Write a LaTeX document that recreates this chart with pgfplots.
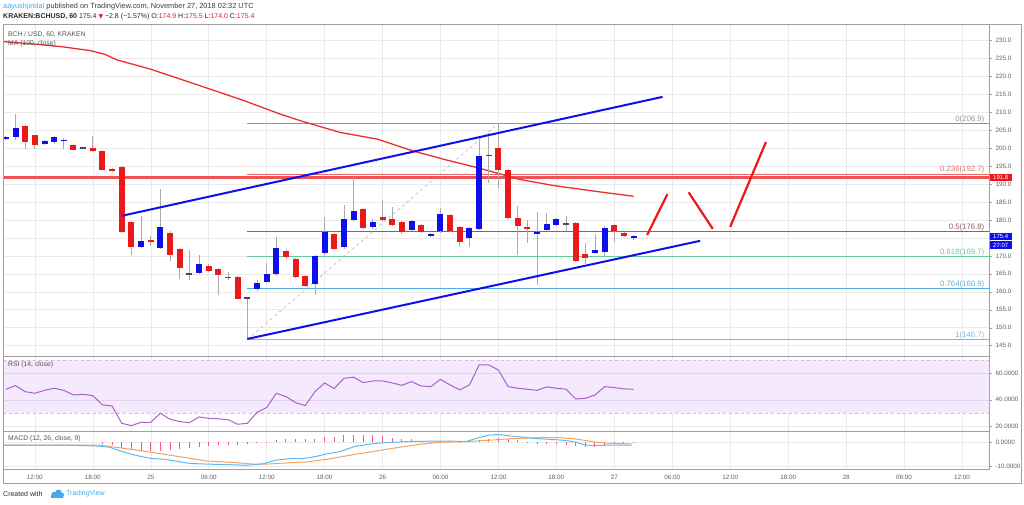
\documentclass[border=0pt]{standalone}
\usepackage{pgfplots}
\pgfplotsset{compat=1.18}
\usepackage{pgfplotstable}
\usepackage{fontspec}
\setmainfont{Liberation Sans}
\newfontfamily\sym{DejaVu Sans}

\definecolor{cred}{RGB}{235,25,25}
\definecolor{cblue}{RGB}{15,15,235}
\definecolor{dojic}{RGB}{70,70,90}
\definecolor{wick}{RGB}{170,170,170}
\definecolor{gridc}{RGB}{234,234,234}
\definecolor{framec}{RGB}{160,160,160}
\definecolor{labc}{RGB}{95,95,95}
\definecolor{maline}{RGB}{238,45,45}
\definecolor{fibzero}{RGB}{150,150,150}
\definecolor{fibA}{RGB}{236,105,105}
\definecolor{fibB}{RGB}{140,95,105}
\definecolor{fibC}{RGB}{100,205,150}
\definecolor{fibD}{RGB}{80,175,225}
\definecolor{fibE}{RGB}{110,190,230}
\definecolor{rsic}{RGB}{175,95,205}
\definecolor{rsiband}{RGB}{244,233,253}
\definecolor{rsidash}{RGB}{205,185,225}
\definecolor{macdc}{RGB}{95,185,240}
\definecolor{sigc}{RGB}{248,160,90}
\definecolor{histc}{RGB}{242,90,130}
\definecolor{tvblue}{RGB}{70,170,230}

% hourly candles, t = hours after Nov 25 00:00
\pgfplotstableread{
t o h l c
-15 202.5 203.4 202.2 203.1
-14 203.0 209.6 202.3 205.5
-11 201.3 202.4 201.0 202.1
-10 201.6 203.3 201.3 203.0
-9 202.0 202.8 199.8 202.4
-1 172.5 181.2 172.3 174.1
1 172.3 188.7 172.0 178.1
5 165.1 170.2 164.9 167.6
11 160.7 163.4 160.2 162.4
12 162.7 167.9 162.4 164.9
13 165.0 175.2 164.4 172.3
17 162.2 170.3 159.1 170.0
18 170.8 180.9 170.3 176.7
20 172.5 184.2 172.0 180.4
21 180.0 192.1 179.6 182.4
23 178.0 180.2 177.6 179.5
27 177.1 179.9 176.8 179.6
29 175.5 176.5 175.2 176.2
30 176.8 183.2 176.5 181.6
33 175.0 178.0 172.4 177.7
34 177.5 203.2 177.2 197.9
40 176.3 182.1 161.9 176.7
41 177.2 182.0 176.9 179.0
42 178.5 180.5 178.2 180.2
46 170.8 176.0 170.5 171.5
47 171.2 178.2 169.6 177.9
50 175.0 175.7 174.5 175.4
}\bull
\pgfplotstableread{
t o h l c
-13 206.1 206.5 199.8 201.7
-12 203.6 203.8 199.8 200.9
-8 200.9 201.2 199.4 199.6
-6 200.0 203.3 198.9 199.1
-5 199.1 199.4 193.8 194.0
-4 194.1 194.4 193.5 193.7
-3 194.8 195.0 176.4 176.6
-2 179.4 179.6 170.3 172.5
0 174.5 175.5 172.8 174.0
2 176.5 177.0 168.6 170.2
3 171.9 172.2 163.5 166.7
6 167.3 167.8 165.5 165.9
7 166.3 166.5 159.1 164.8
9 164.2 164.5 157.9 158.1
14 171.3 171.8 169.0 169.6
15 169.2 169.5 163.9 164.2
16 164.5 164.8 161.2 161.5
19 176.1 176.4 171.5 172.0
22 183.0 183.3 177.5 177.9
24 180.7 185.7 179.6 180.0
25 180.2 183.7 178.2 178.5
26 179.5 179.8 176.2 176.7
28 178.7 179.0 176.3 176.6
31 181.3 181.6 176.6 177.0
32 178.0 178.3 172.4 173.8
36 200.0 206.9 188.8 193.9
37 193.9 194.3 180.2 180.5
38 180.5 184.0 170.3 178.2
39 178.0 180.1 173.6 177.5
44 179.1 179.4 168.3 168.6
45 170.4 173.6 167.8 169.4
48 178.5 178.8 174.0 176.8
49 176.3 176.6 175.3 175.6
}\bear
\pgfplotstableread{
t o h l c
-7 200.0 200.3 199.8 200.0
4 165.0 171.6 163.3 165.0
8 164.0 165.6 163.4 164.0
10 158.3 158.6 146.7 158.3
35 198.0 204.1 190.2 198.0
43 179.0 181.1 176.9 179.0
}\doji
\pgfplotstableread{
t v
-15 47.9
-14 50.7
-13 46.1
-12 44.9
-11 47.1
-10 48.7
-9 47.1
-8 43.6
-7 44.1
-6 43.1
-5 36.1
-4 35.3
-3 22.2
-2 20.5
-1 23.0
0 23.0
1 29.8
2 25.3
3 23.5
4 22.7
5 27.0
6 26.0
7 25.6
8 25.0
9 21.5
10 22.2
11 30.5
12 34.1
13 44.9
14 42.4
15 37.8
16 35.6
17 46.1
18 52.7
19 48.4
20 56.2
21 57.0
22 52.9
23 54.2
24 54.2
25 52.7
26 50.9
27 53.7
28 50.4
29 49.9
30 55.4
31 51.2
32 47.4
33 51.2
34 66.3
35 66.3
36 62.5
37 49.9
38 48.7
39 47.9
40 47.1
41 49.7
42 48.7
43 48.0
44 40.6
45 41.1
46 43.6
47 49.9
48 49.2
49 48.2
50 47.9
}\rsi
\pgfplotstableread{
t v
-5 -0.9
-4 -1.3
-3 -2.2
-2 -3.0
-1 -3.5
0 -3.6
1 -3.5
2 -3.2
3 -2.9
4 -2.5
5 -2.1
6 -1.6
7 -1.3
8 -1.1
9 -1.0
10 -0.9
11 -0.5
12 0.1
13 0.9
14 1.2
15 1.5
16 1.5
17 1.6
18 2.3
19 2.4
20 2.9
21 3.1
22 3.1
23 2.9
24 2.5
25 2.0
26 1.6
27 1.2
28 0.6
29 0.2
30 0.1
31 0.1
32 0.1
33 0.4
34 1.0
35 1.4
36 1.9
37 1.5
38 0.9
39 0.3
40 -0.7
41 -0.8
42 -0.9
43 -1.0
44 -1.5
45 -2.0
46 -2.0
47 -1.2
48 -0.8
49 -0.5
50 -0.3
}\hist

\pgfplotsset{
  panel/.style={
    scale only axis, width=986pt, xmin=-15.3, xmax=86.8,
    axis line style={framec, line width=0.6pt},
    xtick={-12,-6,...,84}, xticklabels={},
    xmajorgrids, ymajorgrids, grid style={gridc, line width=0.5pt},
    tick align=outside, major tick length=3pt,
    ytick pos=right, yticklabel pos=right,
    xtick style={draw=none}, ytick style={framec},
    tick label style={font=\fontsize{6.3}{7}\selectfont, text=labc},
  },
  candle/.style={draw=none, no markers, forget plot,
    error bars/.cd, y dir=both, y explicit, error mark=none,
    error bar style={#1}},
}

\begin{document}
\begin{tikzpicture}
\path[use as bounding box] (0,0) rectangle (1024pt,-504pt);

% header
\node[anchor=west, inner sep=0pt, font=\fontsize{7.4}{8}\selectfont, text={rgb,255:red,60;green,60;blue,60}] at (3pt,-6.5pt)
  {\textcolor{tvblue}{aayushjindal} published on TradingView.com, November 27, 2018 02:32 UTC};
\node[anchor=west, inner sep=0pt, font=\fontsize{7}{8}\selectfont, text={rgb,255:red,40;green,40;blue,40}] at (3pt,-16.5pt)
  {\textbf{KRAKEN:BCHUSD, 60} 175.4 {\sym\textcolor{cred}{\fontsize{6}{7}\selectfont▼}} −2.8 (−1.57\%) O:\textcolor{cred}{174.9} H:\textcolor{cred}{175.5} L:\textcolor{cred}{174.0} C:\textcolor{cred}{175.4}};

% price panel
\begin{axis}[panel, at={(3pt,-24pt)}, anchor=north west, height=332pt,
  ymin=142.1, ymax=234.6, ytick={145,150,...,230},
  yticklabels={145.0,150.0,155.0,160.0,165.0,170.0,{},180.0,185.0,190.0,195.0,200.0,205.0,210.0,215.0,220.0,225.0,230.0}]
  % fibonacci levels
  \addplot[fibzero, line width=0.7pt] coordinates {(10,206.9) (86.8,206.9)};
  \addplot[fibA, line width=0.7pt] coordinates {(10,192.7) (86.8,192.7)};
  \addplot[fibB, line width=0.7pt] coordinates {(10,176.8) (86.8,176.8)};
  \addplot[fibC, line width=1pt] coordinates {(10,169.7) (86.8,169.7)};
  \addplot[fibD, line width=0.7pt] coordinates {(10,160.9) (86.8,160.9)};
  \addplot[fibE, line width=0.7pt] coordinates {(10,146.7) (86.8,146.7)};
  \addplot[fibzero!70, dashed, line width=0.6pt] coordinates {(10,146.7) (36,206.9)};
  \addplot[cred!75, line width=2.4pt] coordinates {(-15.3,191.8) (86.8,191.8)};
  % MA(100)
  \addplot[maline, line width=1.3pt] coordinates {(-15.3,229.7) (-12,229.0) (-9,228.2) (-6.3,227.2) (-4.8,226.2) (-3.5,224.6) (0,222.0) (5,217.5) (9.5,213.4) (13.4,209.5) (15.8,207.4) (19.6,204.4) (23.5,202.5) (27.2,199.2) (30.5,196.8) (33.8,194.6) (38.2,191.3) (41.7,189.6) (46,188.0) (50,186.6)};
  % wicks
  \addplot[candle={wick, line width=0.8pt}] table[x=t, y expr={(\thisrow{h}+\thisrow{l})/2}, y error expr={(\thisrow{h}-\thisrow{l})/2}] {\bull};
  \addplot[candle={wick, line width=0.8pt}] table[x=t, y expr={(\thisrow{h}+\thisrow{l})/2}, y error expr={(\thisrow{h}-\thisrow{l})/2}] {\bear};
  \addplot[candle={wick, line width=0.8pt}] table[x=t, y expr={(\thisrow{h}+\thisrow{l})/2}, y error expr={(\thisrow{h}-\thisrow{l})/2}] {\doji};
  % bodies
  \addplot[candle={cblue, line width=6pt}] table[x=t, y expr={(\thisrow{o}+\thisrow{c})/2}, y error expr={max(abs(\thisrow{o}-\thisrow{c})/2,0.2)}] {\bull};
  \addplot[candle={cred, line width=6pt}] table[x=t, y expr={(\thisrow{o}+\thisrow{c})/2}, y error expr={max(abs(\thisrow{o}-\thisrow{c})/2,0.2)}] {\bear};
  \addplot[candle={dojic, line width=6pt}] table[x=t, y expr={(\thisrow{o}+\thisrow{c})/2}, y error expr={0.2}] {\doji};
  % trend channel
  \addplot[cblue, line width=2pt] coordinates {(-2.93,181.2) (53,214.3)};
  \addplot[cblue, line width=2pt] coordinates {(10,146.85) (56.9,174.2)};
  % projected path
  \addplot[cred, line width=2.2pt] coordinates {(51.4,175.8) (53.5,187.2)};
  \addplot[cred, line width=2.2pt] coordinates {(55.7,187.7) (58.2,177.5)};
  \addplot[cred, line width=2.2pt] coordinates {(60.0,178.1) (63.7,201.7)};
  % labels
  \begin{scope}[every node/.style={anchor=south east, inner sep=0.6pt, font=\fontsize{7.8}{8}\selectfont}]
    \node[text=fibzero] at (axis cs:86.4,206.9) {0(206.9)};
    \node[text=fibA] at (axis cs:86.4,192.7) {0.236(192.7)};
    \node[text=fibB] at (axis cs:86.4,176.8) {0.5(176.8)};
    \node[text=fibC] at (axis cs:86.4,169.7) {0.618(169.7)};
    \node[text=fibD] at (axis cs:86.4,160.9) {0.764(160.9)};
    \node[text=fibE] at (axis cs:86.4,146.7) {1(146.7)};
  \end{scope}
\end{axis}

% RSI panel
\begin{axis}[panel, at={(3pt,-356.7pt)}, anchor=north west, height=74.3pt,
  ymin=16.4, ymax=72.5, ytick={20,40,60}, yticklabels={20.0000,40.0000,60.0000}]
  \addplot[fill=rsiband, draw=none] coordinates {(-15.3,30) (86.8,30) (86.8,70) (-15.3,70)} \closedcycle;
  \addplot[rsidash!60, line width=0.5pt] coordinates {(-15.3,40) (86.8,40)};
  \addplot[rsidash!60, line width=0.5pt] coordinates {(-15.3,60) (86.8,60)};
  \addplot[rsidash, dashed, line width=0.6pt] coordinates {(-15.3,30) (86.8,30)};
  \addplot[rsidash, dashed, line width=0.6pt] coordinates {(-15.3,70) (86.8,70)};
  \addplot[rsic, line width=1pt] table[x=t, y=v] {\rsi};
\end{axis}

% MACD panel
\begin{axis}[panel, at={(3pt,-431pt)}, anchor=north west, height=38.3pt,
  ymin=-11.4, ymax=4.77, ytick={-10,0}, yticklabels={-10.0000,0.0000},
  xticklabels={12:00,18:00,25,06:00,12:00,18:00,26,06:00,12:00,18:00,27,06:00,12:00,18:00,28,06:00,12:00},
  xticklabel style={yshift=1pt}]
  \addplot[histc, ycomb, line width=1pt] table[x=t, y=v] {\hist};
  \addplot[sigc, line width=1pt] coordinates {(-15.3,-1.2) (-5.3,-1.2) (-3.6,-2.1) (-1.1,-3.5) (1.6,-5.2) (3.7,-6.5) (5.8,-7.9) (8.5,-8.5) (10.6,-9.2) (12.0,-9.2) (14.1,-8.7) (16.1,-8.3) (18.2,-7.2) (21.0,-5.2) (23.0,-3.9) (25.1,-2.5) (27.9,-0.8) (29.9,0) (32.7,0.3) (34.8,0.8) (37.2,1.5) (39.5,1.9) (41.9,2.0) (43.6,1.6) (45.0,0.8) (46.0,0.1) (47.4,-0.4) (49.8,-0.7)};
  \addplot[macdc, line width=1pt] coordinates {(-15.3,-1.2) (-8.7,-1.2) (-5.3,-1.6) (-4.25,-2.1) (-2.5,-4.5) (-1.1,-5.9) (0.2,-6.9) (1.3,-7.1) (2.7,-8.0) (4.0,-8.9) (5.8,-9.2) (8.5,-9.5) (9.9,-9.7) (11.6,-9.1) (13.0,-7.5) (14.4,-6.9) (15.8,-6.9) (17.2,-5.9) (18.2,-4.9) (19.6,-3.9) (21.0,-1.9) (22.4,-0.9) (23.7,-0.3) (25.1,0) (27.2,0.4) (29.9,0.5) (32.7,0.4) (34.1,2.1) (35.1,3.1) (36.0,3.3) (37.2,2.7) (39.5,1.7) (41.9,1.1) (42.9,0.8) (44.0,0.1) (45.0,-1.2) (46.0,-1.3) (47.8,-1.2) (49.8,-1.2)};
\end{axis}

% frame and panel titles
\draw[framec, line width=0.6pt] (3pt,-24pt) rectangle (1021pt,-483pt);
\begin{scope}[every node/.style={anchor=west, inner sep=0pt, font=\fontsize{6.8}{8}\selectfont, text={rgb,255:red,85;green,85;blue,85}}]
  \node at (8pt,-34pt) {BCH / USD, 60, KRAKEN};
  \node at (8pt,-44pt) {MA (100, close)};
  \node at (8pt,-365pt) {RSI (14, close)};
  \node at (8pt,-439pt) {MACD (12, 26, close, 9)};
\end{scope}

% last price boxes
\begin{scope}[every node/.style={anchor=west, text=white, inner sep=0pt, minimum width=22pt, minimum height=7.6pt, font=\fontsize{6}{7}\selectfont}]
  \node[fill=cred] at (989.5pt,-177.6pt) {191.8};
  \node[fill=cblue] at (989.5pt,-236.4pt) {175.4};
  \node[fill=cblue] at (989.5pt,-245pt) {27:07};
\end{scope}

% footer
\node[anchor=west, inner sep=0pt, font=\fontsize{7}{8}\selectfont, text={rgb,255:red,40;green,40;blue,40}] at (3pt,-494pt) {Created with};
\fill[tvblue] (51pt,-497.5pt) rectangle (63pt,-494.5pt);
\fill[tvblue] (54pt,-494.5pt) circle (2.6pt);
\fill[tvblue] (58.5pt,-492.8pt) circle (3.3pt);
\fill[tvblue] (62pt,-495pt) circle (2.2pt);
\node[anchor=west, inner sep=0pt, font=\fontsize{7}{8}\selectfont, text=tvblue] at (66pt,-494pt) {TradingView};
\end{tikzpicture}
\end{document}
